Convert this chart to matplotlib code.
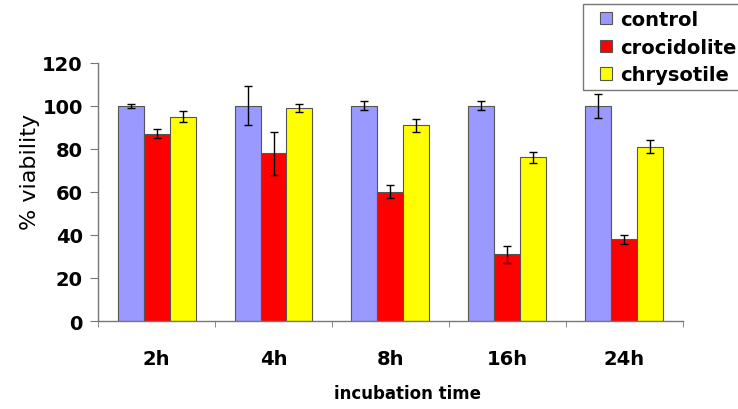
import matplotlib
matplotlib.use('Agg')
import matplotlib.pyplot as plt
import matplotlib.patches as mpatches
from matplotlib.container import BarContainer
from matplotlib.legend_handler import HandlerPatch, update_from_first_child
import numpy as np

plt.rcParams['font.family'] = ['DejaVu Sans']

times = ['2h', '4h', '8h', '16h', '24h']
control = [100, 100, 100, 100, 100]
control_err = [1, 9, 2, 2, 5.5]
crocidolite = [87, 78, 60, 31, 38]
crocidolite_err = [2, 10, 3, 4, 2]
chrysotile = [95, 99, 91, 76, 81]
chrysotile_err = [2.6, 2, 3, 2.5, 3]

fig = plt.figure(figsize=(7.38, 4.10), dpi=100)
ax = fig.add_axes([0.133, 0.2146, 0.792, 0.63])

x = np.arange(len(times))
w = 0.222
err_kw = dict(ecolor='black', capsize=3, elinewidth=1, capthick=1)
ax.bar(x - w, control, w, yerr=control_err, color='#9999FF', edgecolor='#555555',
       linewidth=0.8, label='control', error_kw=err_kw)
ax.bar(x, crocidolite, w, yerr=crocidolite_err, color='#FF0000', edgecolor='#555555',
       linewidth=0.8, label='crocidolite', error_kw=err_kw)
ax.bar(x + w, chrysotile, w, yerr=chrysotile_err, color='#FFFF00', edgecolor='#555555',
       linewidth=0.8, label='chrysotile', error_kw=err_kw)

ax.set_xlim(-0.5, len(times) - 0.5)
ax.set_ylim(0, 120)
ax.set_yticks(range(0, 121, 20))
ax.set_xticks(x)
ax.set_xticklabels(times)
ax.set_xticks(np.arange(-0.5, len(times), 1), minor=True)
ax.tick_params(axis='x', which='major', length=0, pad=20, labelsize=14)
ax.tick_params(axis='x', which='minor', length=4, direction='out', color='#777777')
ax.tick_params(axis='y', length=6, direction='out', labelsize=14, pad=5, color='#777777')
for lab in ax.get_xticklabels() + ax.get_yticklabels():
    lab.set_fontweight('bold')

for s in ['top', 'right']:
    ax.spines[s].set_visible(False)
for s in ['left', 'bottom']:
    ax.spines[s].set_color('#777777')
    ax.spines[s].set_linewidth(1)

ax.set_xlabel('incubation time', fontsize=12, fontweight='bold')
ax.xaxis.set_label_coords(0.53, -0.245)
ax.set_ylabel('% viability', fontsize=16, fontweight='medium')
ax.yaxis.set_label_coords(-0.10, 0.58)


# small square swatch placed at the right of the handle box
def square(legend, orig_handle, xdescent, ydescent, width, height, fontsize):
    return mpatches.Rectangle((-xdescent + width - height, -ydescent), height, height)


leg = fig.legend(loc='upper left', bbox_to_anchor=(583 / 738, 1 - 5 / 410),
                 fontsize=14, frameon=True, fancybox=False, edgecolor='#555555',
                 handlelength=1.2, handleheight=0.6, handletextpad=0.4,
                 borderpad=0.3, labelspacing=0.45, borderaxespad=0,
                 handler_map={BarContainer: HandlerPatch(patch_func=square,
                                                         update_func=update_from_first_child)})
leg.get_frame().set_linewidth(1)
for t in leg.get_texts():
    t.set_fontweight('bold')

fig.savefig('out.png', dpi=100)
